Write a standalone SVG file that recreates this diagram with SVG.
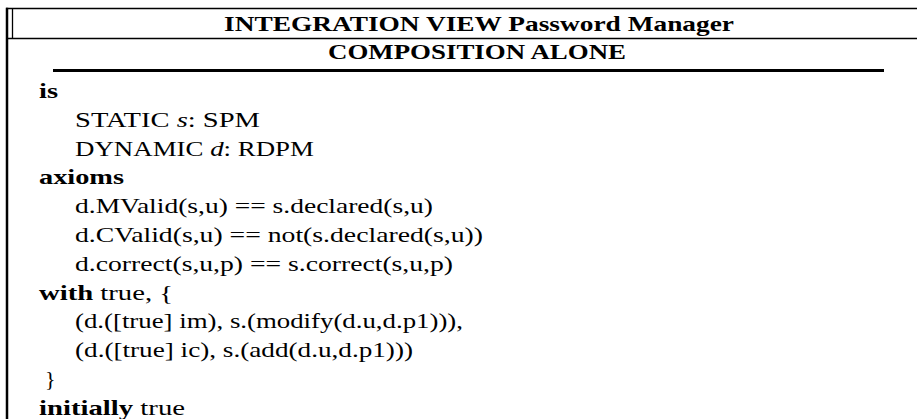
<svg xmlns="http://www.w3.org/2000/svg" width="917" height="419" viewBox="0 0 917 419">
  <style>
    .frame { stroke: #000; fill: none; }
    .head { font-family: "Liberation Serif", "Times New Roman", serif; font-weight: bold; font-size: 22px; fill: #000; }
    .body { font-family: "Liberation Serif", "Times New Roman", serif; font-size: 22px; fill: #000; }
    .kw { font-weight: bold; }
    .it { font-style: italic; }
  </style>
  <rect width="917" height="419" fill="#fff"/>

  <!-- frame rules -->
  <g id="frame">
    <line class="frame" x1="6" y1="8.5" x2="917" y2="8.5" stroke-width="1.5"/>
    <line class="frame" x1="7" y1="7.8" x2="7" y2="419" stroke-width="2.5"/>
    <line class="frame" x1="12.5" y1="8.5" x2="12.5" y2="38.5" stroke-width="1.3"/>
    <line class="frame" x1="6" y1="38.5" x2="917" y2="38.5" stroke-width="1.5"/>
    <line class="frame" x1="53" y1="70.5" x2="884" y2="70.5" stroke-width="3"/>
  </g>

  <!-- heading -->
  <g id="heading">
    <text class="head" x="224" y="30.5" textLength="510" lengthAdjust="spacingAndGlyphs">INTEGRATION VIEW Password Manager</text>
    <text class="head" x="328" y="59" textLength="298" lengthAdjust="spacingAndGlyphs">COMPOSITION ALONE</text>
  </g>

  <!-- specification body -->
  <g id="spec" class="body">
    <text x="39" y="98" textLength="19" lengthAdjust="spacingAndGlyphs"><tspan class="kw">is</tspan></text>
    <text x="75" y="126.8" textLength="185" lengthAdjust="spacingAndGlyphs">STATIC <tspan class="it">s</tspan>: SPM</text>
    <text x="75" y="155.6" textLength="239" lengthAdjust="spacingAndGlyphs">DYNAMIC <tspan class="it">d</tspan>: RDPM</text>
    <text x="39" y="184.4" textLength="85" lengthAdjust="spacingAndGlyphs"><tspan class="kw">axioms</tspan></text>
    <text x="75" y="213.2" textLength="358" lengthAdjust="spacingAndGlyphs">d.MValid(s,u) == s.declared(s,u)</text>
    <text x="75" y="242" textLength="408" lengthAdjust="spacingAndGlyphs">d.CValid(s,u) == not(s.declared(s,u))</text>
    <text x="75" y="270.8" textLength="378" lengthAdjust="spacingAndGlyphs">d.correct(s,u,p) == s.correct(s,u,p)</text>
    <text x="39" y="299.6" textLength="134" lengthAdjust="spacingAndGlyphs"><tspan class="kw">with</tspan> true, {</text>
    <text x="75" y="328.4" textLength="388" lengthAdjust="spacingAndGlyphs">(d.([true] im), s.(modify(d.u,d.p1))),</text>
    <text x="75" y="357.2" textLength="338" lengthAdjust="spacingAndGlyphs">(d.([true] ic), s.(add(d.u,d.p1)))</text>
    <text x="45" y="386">}</text>
    <text x="39" y="414.8" textLength="146" lengthAdjust="spacingAndGlyphs"><tspan class="kw">initially</tspan> true</text>
  </g>
</svg>
